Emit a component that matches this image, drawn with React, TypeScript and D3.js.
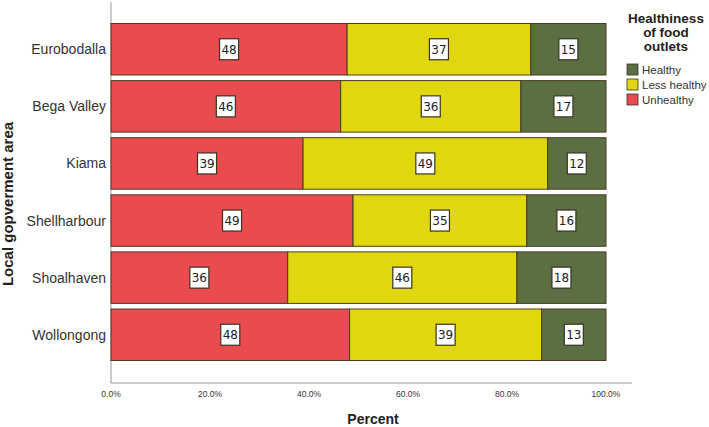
import React from "react";
import * as d3 from "d3";

const areas = ["Eurobodalla", "Bega Valley", "Kiama", "Shellharbour", "Shoalhaven", "Wollongong"];
const unhealthy = [47.7, 46.4, 38.8, 48.9, 35.7, 48.2];
const lessHealthy = [37.1, 36.4, 49.4, 35.1, 46.3, 38.8];
const healthy = [15.2, 17.2, 11.8, 16.0, 18.0, 13.0];
const xTicks = [0, 20, 40, 60, 80, 100];
const legendLabels = ["Healthy", "Less healthy", "Unhealthy"];

const RED = "#EA4B4E";
const YELLOW = "#E1D710";
const GREEN = "#5C6F42";

export default function App() {
  const W = 709, H = 427;
  const x0 = 111, x1 = 606;
  const x = d3.scaleLinear().domain([0, 100]).range([x0, x1]);
  const y = d3.scaleBand().domain(areas).range([23.5, 360.5]).paddingInner(0.098).paddingOuter(0);

  const series = [
    { key: "Unhealthy", vals: unhealthy, color: RED },
    { key: "Less healthy", vals: lessHealthy, color: YELLOW },
    { key: "Healthy", vals: healthy, color: GREEN },
  ];

  const rects: any[] = [];
  const labels: any[] = [];
  areas.forEach((a, i) => {
    let acc = 0;
    series.forEach((s, j) => {
      const v = s.vals[i];
      const xs = x(acc), xe = x(acc + v);
      rects.push(
        <rect key={`r${i}-${j}`} x={xs} y={y(a)} width={xe - xs} height={y.bandwidth()}
          fill={s.color} stroke="#4a3b22" strokeWidth={1} />
      );
      const cx = (xs + xe) / 2, cy = y(a)! + y.bandwidth() / 2;
      const txt = String(Math.round(v));
      const bw = 19, bh = 21;
      labels.push(
        <g key={`l${i}-${j}`}>
          <rect x={cx - bw / 2} y={cy - bh / 2} width={bw} height={bh} fill="#fff" stroke="#3a3326" strokeWidth={1.2} />
          <text x={cx} y={cy + 4.5} textAnchor="middle" fontFamily="'DejaVu Sans', sans-serif" fontSize={12} fill="#222">{txt}</text>
        </g>
      );
      acc += v;
    });
  });

  const legendColors = [GREEN, YELLOW, RED];

  return (
    <svg width={W} height={H} style={{ position: "absolute", left: 0, top: 0, background: "#fff" }}>
      <line x1={x0} y1={2} x2={x0} y2={383} stroke="#999" strokeWidth={1} />
      <line x1={x0} y1={383} x2={632} y2={383} stroke="#999" strokeWidth={1} />
      {rects}
      {labels}
      {areas.map((a) => (
        <text key={a} x={106} y={y(a)! + y.bandwidth() / 2 + 5} textAnchor="end"
          fontFamily="'Liberation Sans', Arial, sans-serif" fontSize={14} fill="#333">{a}</text>
      ))}
      {xTicks.map((t) => (
        <text key={t} x={x(t)} y={397} textAnchor="middle" fontFamily="'Liberation Sans', Arial, sans-serif" fontSize={8.5} fill="#333">{t.toFixed(1)}%</text>
      ))}
      <text x={373} y={424} textAnchor="middle" fontFamily="'Liberation Sans', Arial, sans-serif" fontSize={14} fontWeight="bold" fill="#222">Percent</text>
      <text transform="translate(13,204) rotate(-90)" textAnchor="middle" fontFamily="'Liberation Sans', Arial, sans-serif" fontSize={15} fontWeight="bold" fill="#222">Local gopverment area</text>
      <g fontFamily="'Liberation Sans', Arial, sans-serif">
        {["Healthiness", "of food", "outlets"].map((t, i) => (
          <text key={t} x={666} y={23 + i * 14} textAnchor="middle" fontSize={13.5} fontWeight="bold" fill="#222">{t}</text>
        ))}
        {legendLabels.map((l, i) => (
          <g key={l}>
            <rect x={627} y={64 + i * 15} width={11} height={11} fill={legendColors[i]} stroke="#333" strokeWidth={0.8} />
            <text x={642} y={74 + i * 15} fontSize={11.5} fill="#333">{l}</text>
          </g>
        ))}
      </g>
    </svg>
  );
}
